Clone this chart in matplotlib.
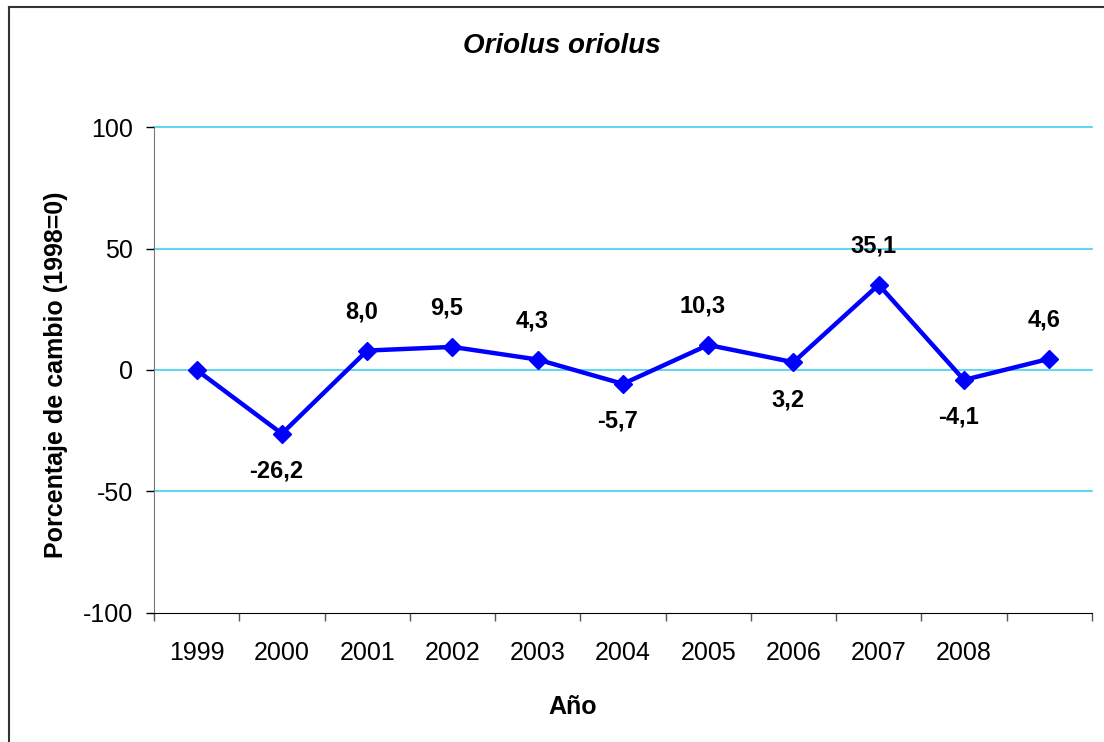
import matplotlib
matplotlib.use("Agg")
import matplotlib.pyplot as plt
from matplotlib.lines import Line2D

plt.rcParams['font.family'] = ['Liberation Sans', 'DejaVu Sans']
plt.rcParams['axes.unicode_minus'] = False

years = ['1999', '2000', '2001', '2002', '2003', '2004', '2005', '2006', '2007', '2008', '']
change = [0.0, -26.2, 8.0, 9.5, 4.3, -5.7, 10.3, 3.2, 35.1, -4.1, 4.6]
labels = ['', '-26,2', '8,0', '9,5', '4,3', '-5,7', '10,3', '3,2', '35,1', '-4,1', '4,6']
label_side = ['', 'below', 'above', 'above', 'above', 'below', 'above', 'below', 'above', 'below', 'above']

fig = plt.figure(figsize=(11.04, 7.42), dpi=100)
ax = fig.add_axes([0.1395, 0.1739, 0.8495, 0.6549])

x = list(range(len(change)))
ax.plot(x, change, color='#0000FF', lw=3.2, marker='D', ms=9, zorder=3)

for xi, yi, txt, side in zip(x, change, labels, label_side):
    if not txt:
        continue
    dy = 28 if side == 'above' else -27
    ax.annotate(txt, (xi, yi), xytext=(-4, dy), textcoords='offset points',
                ha='center', va='center', fontsize=17, fontweight='bold')

ax.set_xlim(-0.5, len(change) - 0.5)
ax.set_ylim(-100, 100)
ax.set_yticks([-100, -50, 0, 50, 100])
ax.set_xticks(x)
ax.set_xticklabels(years)
ax.set_xticks([i - 0.5 for i in range(len(change) + 1)], minor=True)
ax.tick_params(axis='x', which='major', length=0, pad=20, labelsize=18)
ax.tick_params(axis='x', which='minor', length=6, width=1, color='#555555')
ax.tick_params(axis='y', length=6, width=1, pad=9, labelsize=18)

for v in [-50, 0, 50, 100]:
    ax.axhline(v, color='#33CCEE', lw=1.1, zorder=1, clip_on=False)

ax.spines['top'].set_visible(False)
ax.spines['right'].set_visible(False)
ax.spines['left'].set_color('#777777')
ax.spines['bottom'].set_color('black')

ax.set_xlabel('Año', fontsize=18, fontweight='bold')
ax.xaxis.set_label_coords(0.446, -0.169)
ax.set_ylabel('Porcentaje de cambio (1998=0)', fontsize=18, fontweight='bold')
ax.yaxis.set_label_coords(-0.092, 0.49)
fig.text(0.509, 0.938, 'Oriolus oriolus', ha='center', va='center',
         fontsize=20, fontweight='bold', fontstyle='italic')

# outer chart border (left and top visible)
fig.add_artist(Line2D([9 / 1104, 9 / 1104], [0, 1 - 7 / 742], transform=fig.transFigure, color='#333333', lw=1.5))
fig.add_artist(Line2D([9 / 1104, 1], [1 - 7 / 742, 1 - 7 / 742], transform=fig.transFigure, color='#333333', lw=1.5))

fig.savefig('out.png', dpi=100)
